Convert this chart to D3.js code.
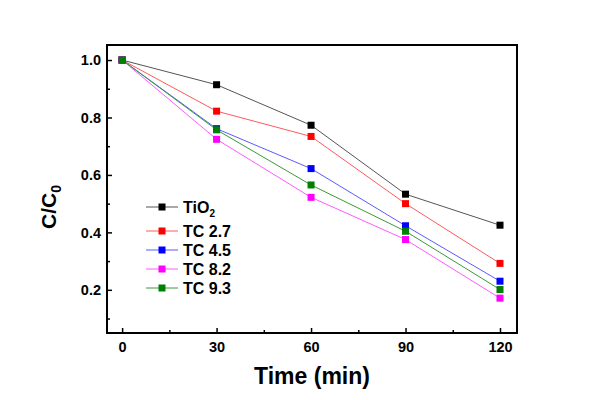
<!DOCTYPE html>
<html><head><meta charset="utf-8">
<script src="https://cdn.jsdelivr.net/npm/d3@7"></script>
<style>body{margin:0;background:#fff}svg{display:block}text{font-family:Arial,"Liberation Sans",sans-serif;font-weight:bold}</style>
</head><body><svg id="c" width="600" height="400"></svg>
<script>
const times = [0, 30, 60, 90, 120];
const seriesNames = ["TiO2", "TC 2.7", "TC 4.5", "TC 8.2", "TC 9.3"];
const tio2 = [1.0, 0.914, 0.773, 0.533, 0.425];
const tc27 = [1.0, 0.822, 0.734, 0.500, 0.292];
const tc45 = [1.0, 0.761, 0.622, 0.423, 0.230];
const tc82 = [1.0, 0.724, 0.522, 0.375, 0.171];
const tc93 = [1.0, 0.757, 0.565, 0.404, 0.201];
const xTicks = [0, 30, 60, 90, 120];
const yTicks = [0.2, 0.4, 0.6, 0.8, 1.0];
const markerColors = ["#000000", "#ff0000", "#0000ff", "#ff00ff", "#008000"];
const lineColors = ["#555555", "#ff5a5a", "#5a5aff", "#ff5aff", "#3a9a3a"];

const values = [tio2, tc27, tc45, tc82, tc93];
const svg = d3.select("#c");
const L = 107, R = 517, T = 45, B = 333;
const x = d3.scaleLinear().domain([-4.8, 125.4]).range([L, R]);
const y = d3.scaleLinear().domain([0.0497, 1.0523]).range([B, T]);

const xMinor = [15, 45, 75, 105];
const yMinor = [0.1, 0.3, 0.5, 0.7, 0.9];
const FONT = "Arial, 'Liberation Sans', sans-serif";

const xAxis = svg.append("g").attr("transform", `translate(0,${B})`)
  .call(d3.axisBottom(x).tickValues(xTicks).tickSize(-5).tickPadding(9).tickFormat(d3.format("d")));
xAxis.select(".domain").remove();
xAxis.selectAll("text").attr("font-size", 14.5).attr("font-weight", "bold").attr("fill", "#000").attr("font-family", FONT);
xAxis.selectAll("line").attr("stroke", "#000").attr("stroke-width", 1.5);
const xAxisMinor = svg.append("g").attr("transform", `translate(0,${B})`)
  .call(d3.axisBottom(x).tickValues(xMinor).tickSize(-3).tickFormat(""));
xAxisMinor.select(".domain").remove();
xAxisMinor.selectAll("line").attr("stroke", "#000").attr("stroke-width", 1.5);

const yAxis = svg.append("g").attr("transform", `translate(${L},0)`)
  .call(d3.axisLeft(y).tickValues(yTicks).tickSize(-5).tickPadding(6).tickFormat(d3.format(".1f")));
yAxis.select(".domain").remove();
yAxis.selectAll("text").attr("font-size", 14.5).attr("font-weight", "bold").attr("fill", "#000").attr("font-family", FONT);
yAxis.selectAll("line").attr("stroke", "#000").attr("stroke-width", 1.5);
const yAxisMinor = svg.append("g").attr("transform", `translate(${L},0)`)
  .call(d3.axisLeft(y).tickValues(yMinor).tickSize(-3).tickFormat(""));
yAxisMinor.select(".domain").remove();
yAxisMinor.selectAll("line").attr("stroke", "#000").attr("stroke-width", 1.5);

svg.append("rect").attr("x", L).attr("y", T).attr("width", R - L).attr("height", B - T)
  .attr("fill", "none").attr("stroke", "#000").attr("stroke-width", 2);

const line = d3.line().x((d, i) => x(times[i])).y(d => y(d));
values.forEach((vals, k) => {
  svg.append("path").datum(vals).attr("d", line).attr("fill", "none")
    .attr("stroke", lineColors[k]).attr("stroke-width", 1);
});
values.forEach((vals, k) => {
  svg.selectAll(null).data(vals).enter().append("rect")
    .attr("x", (d, i) => x(times[i]) - 3.5).attr("y", d => y(d) - 3.5)
    .attr("width", 7).attr("height", 7).attr("fill", markerColors[k]);
});

const legY = [207, 231, 250, 269, 288];
seriesNames.forEach((name, k) => {
  const g = svg.append("g").attr("transform", `translate(0,${legY[k]})`);
  g.append("line").attr("x1", 146).attr("x2", 178).attr("y1", 0).attr("y2", 0)
    .attr("stroke", lineColors[k]).attr("stroke-width", 1);
  g.append("rect").attr("x", 158.5).attr("y", -3.5).attr("width", 7).attr("height", 7).attr("fill", markerColors[k]);
  const t = g.append("text").attr("x", 183).attr("y", 6).attr("font-size", 16).attr("fill", "#000");
  if (name === "TiO2") {
    t.append("tspan").text("TiO");
    t.append("tspan").text("2").attr("font-size", 10).attr("dy", 4);
  } else {
    t.text(name);
  }
});

svg.append("text").attr("x", 312).attr("y", 384).attr("text-anchor", "middle")
  .attr("font-size", 23).attr("fill", "#000").text("Time (min)");
const yt = svg.append("text").attr("transform", "translate(56,207) rotate(-90)")
  .attr("text-anchor", "middle").attr("font-size", 21).attr("fill", "#000");
yt.append("tspan").text("C/C");
yt.append("tspan").text("0").attr("font-size", 14).attr("dy", 5);
</script></body></html>
